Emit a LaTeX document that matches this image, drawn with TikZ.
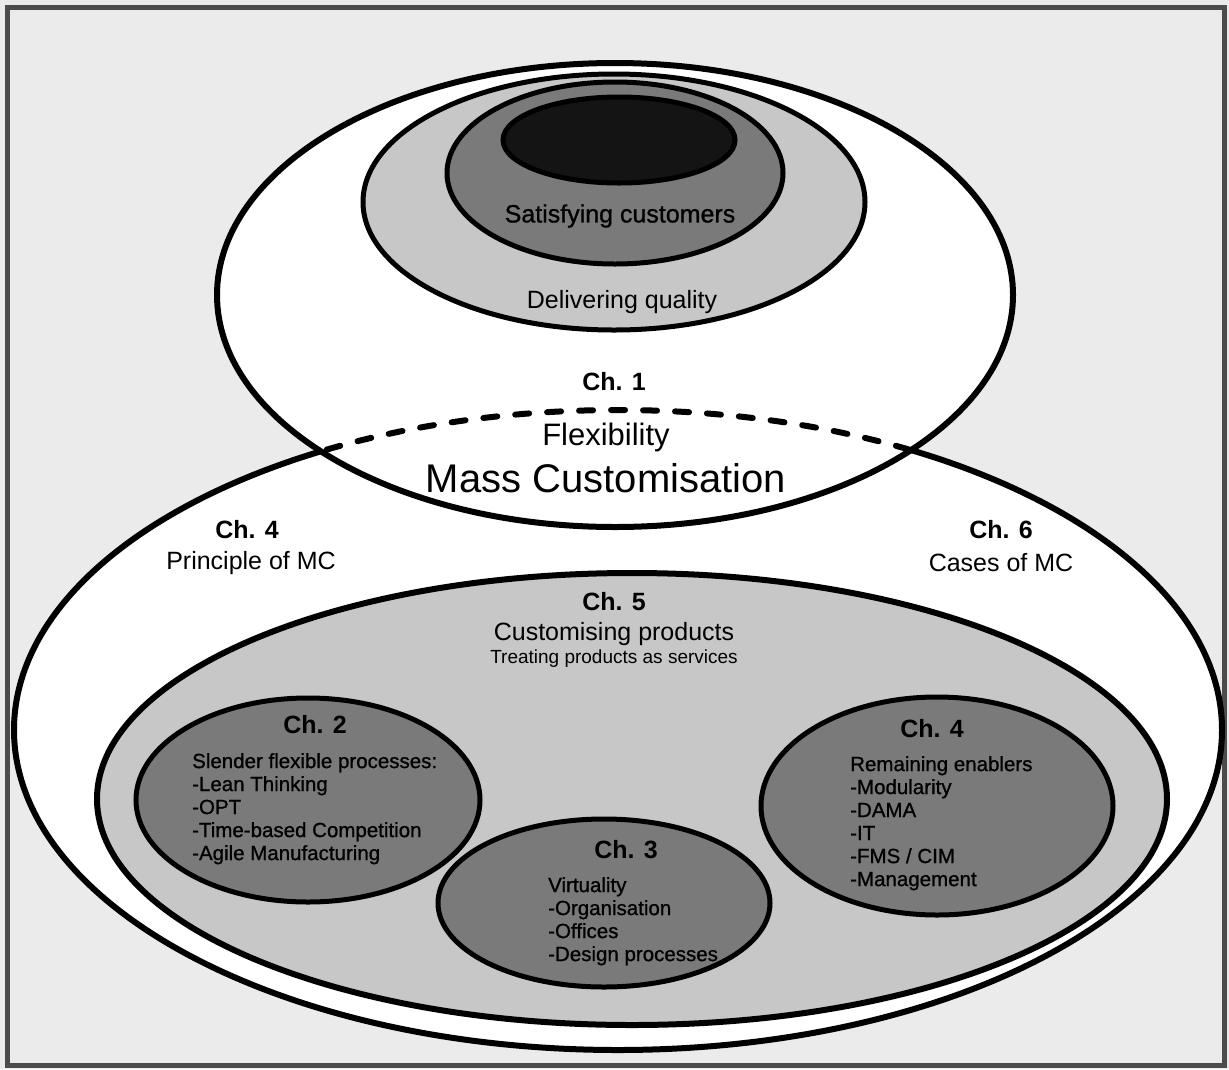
\documentclass[tikz,border=0pt]{standalone}
\usepackage{fontspec}
\setmainfont{Liberation Sans}
\newfontfamily\heavysans{Liberation Sans}[FakeBold=0.9]
\begin{document}
\begin{tikzpicture}[x=1pt,y=-1pt,
  paper/.style={fill=black!8},
  frame/.style={draw=black!70,line width=5pt},
  rim/.style={draw=black,line width=6pt},
  thinrim/.style={draw=black,line width=5pt},
  lightgrey/.style={fill=black!22},
  midgrey/.style={fill=black!52},
  darkgrey/.style={fill=black!92},
  hidden/.style={draw=black,line width=6pt,dash pattern=on 14pt off 18pt,line cap=round},
  chap/.style={inner sep=0pt,font=\fontsize{25}{25}\selectfont\bfseries},
  body/.style={inner sep=0pt,font=\fontsize{25}{25}\selectfont},
  heavybody/.style={inner sep=0pt,font=\heavysans\fontsize{25}{25}\selectfont},
  small/.style={inner sep=0pt,font=\fontsize{19}{19}\selectfont},
  listing/.style={inner sep=0pt,anchor=north west,align=left,font=\heavysans\fontsize{20.5}{23}\selectfont}]

\useasboundingbox (0,0) rectangle (1229,1069);
\fill[paper] (0,0) rectangle (1229,1069);
\draw[frame] (7,7) rectangle (1224,1065);

% lower ellipse: mass customisation
\draw[rim,fill=white] (618,730) ellipse [x radius=604pt,y radius=320pt];
% Ch. 5 region
\draw[rim,lightgrey] (632,799) ellipse [x radius=535pt,y radius=226pt];
% chapter ellipses
\draw[thinrim,midgrey] (308,800) ellipse [x radius=172pt,y radius=102pt];
\draw[thinrim,midgrey] (937,806) ellipse [x radius=176pt,y radius=109pt];
\draw[thinrim,midgrey] (604,903) ellipse [x radius=166pt,y radius=84pt];

% upper ellipse: Ch. 1
\fill[white] (615,295) ellipse [x radius=398pt,y radius=232pt];
\begin{scope}
  \clip (615,295) ellipse [x radius=398pt,y radius=232pt];
  \draw[hidden] (618,730) ellipse [x radius=604pt,y radius=320pt];
\end{scope}
\draw[rim] (615,295) ellipse [x radius=398pt,y radius=232pt];
\draw[thinrim,lightgrey] (614,202) ellipse [x radius=251pt,y radius=128pt];
\draw[thinrim,midgrey] (615,173) ellipse [x radius=168pt,y radius=91pt];
\draw[thinrim,darkgrey] (619,140) ellipse [x radius=116pt,y radius=43pt];

% labels of the upper ellipse
\node[heavybody] (satisfying) at (620,216) {Satisfying customers};
\node[body] (delivering) at (622,302) {Delivering quality};
\node[chap] (chone) at (614,382) {Ch. 1};
\node[inner sep=0pt,font=\fontsize{31}{31}\selectfont] (flex) at (606,437) {Flexibility};
\node[inner sep=0pt,font=\fontsize{40}{40}\selectfont] (mass) at (606,478) {Mass Customisation};

% labels of the lower ellipse
\node[chap] (chfourtop) at (247,530) {Ch. 4};
\node[body] (principle) at (251,563) {Principle of MC};
\node[chap] (chsix) at (1001,530) {Ch. 6};
\node[body] (cases) at (1001,563) {Cases of MC};
\node[chap] (chfive) at (614,602) {Ch. 5};
\node[body] (customising) at (614,634) {Customising products};
\node[small] (treating) at (614,659) {Treating products as services};

% Ch. 2
\node[chap] (chtwo) at (315,725) {Ch. 2};
\node[listing] (slender) at (192,753) {Slender flexible processes:\\-Lean Thinking\\-OPT\\-Time-based Competition\\-Agile Manufacturing};
% Ch. 3
\node[chap] (chthree) at (626,850) {Ch. 3};
\node[listing] (virtuality) at (548,877) {Virtuality\\-Organisation\\-Offices\\-Design processes};
% Ch. 4
\node[chap] (chfour) at (932,729) {Ch. 4};
\node[listing] (enablers) at (850,756) {Remaining enablers\\-Modularity\\-DAMA\\-IT\\-FMS / CIM\\-Management};
\end{tikzpicture}
\end{document}
